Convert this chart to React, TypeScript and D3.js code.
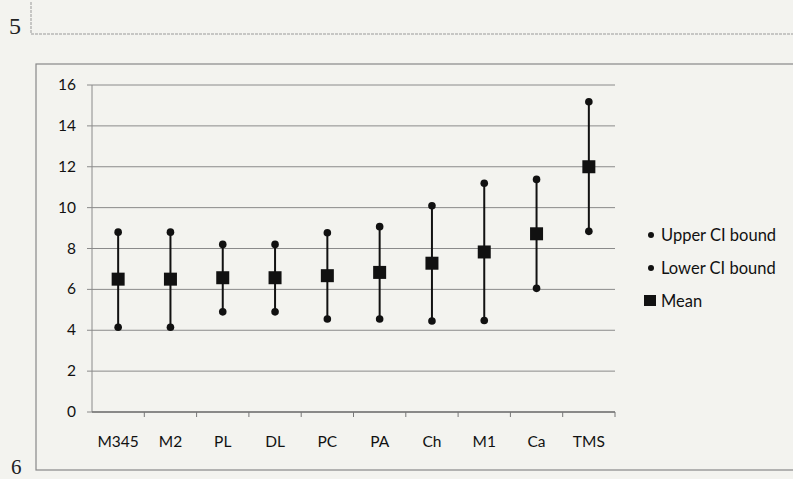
import React from 'react'
import * as d3 from 'd3'

const categories = ['M345', 'M2', 'PL', 'DL', 'PC', 'PA', 'Ch', 'M1', 'Ca', 'TMS']
const upper = [8.8, 8.8, 8.2, 8.2, 8.77, 9.07, 10.09, 11.19, 11.38, 15.18]
const lower = [4.15, 4.15, 4.9, 4.9, 4.55, 4.55, 4.45, 4.48, 6.05, 8.84]
const means = [6.5, 6.5, 6.57, 6.57, 6.67, 6.83, 7.28, 7.83, 8.72, 12.0]
const yTicks = [0, 2, 4, 6, 8, 10, 12, 14, 16]
const legendItems = ['Upper CI bound', 'Lower CI bound', 'Mean']

const W = 793
const H = 479
const font = 'Lato, Calibri, sans-serif'

export default function App () {
  const x = d3.scaleBand().domain(categories).range([92, 615])
  const y = d3.scaleLinear().domain([0, 16]).range([412, 85])
  const bw = x.bandwidth()
  const legendY = d3.scalePoint().domain(legendItems).range([235, 301])

  return (
    <svg width={W} height={H} style={{position: 'absolute', left: 0, top: 0, background: '#f3f3ef'}}>
      <rect x={0} y={0} width={W} height={H} fill='#f3f3ef' />
      {/* page furniture */}
      <text x={9} y={34} fontFamily='"Liberation Serif", serif' fontSize={24} fill='#222'>5</text>
      <path d={`M31,2 V34 H${W}`} fill='none' stroke='#999' strokeWidth={1} strokeDasharray='3,1' />
      <text x={11} y={474} fontFamily='"Liberation Serif", serif' fontSize={21} fill='#222'>6</text>
      <rect x={36} y={64} width={W} height={406} fill='none' stroke='#888' strokeWidth={1.2} />

      {/* grid */}
      {yTicks.map(t => (
        <g key={t}>
          <line x1={87} x2={615} y1={y(t)} y2={y(t)} stroke='#8a8a8a' strokeWidth={1} />
          <text x={76} y={y(t) + 5} textAnchor='end' fontFamily={font} fontSize={15.5} fill='#111'>{t}</text>
        </g>
      ))}
      <line x1={92} x2={92} y1={y(16)} y2={y(0)} stroke='#8a8a8a' strokeWidth={1} />
      <line x1={92} x2={615} y1={y(0)} y2={y(0)} stroke='#777' strokeWidth={1.5} />
      {categories.map(c => (
        <line key={'t' + c} x1={(x(c) as number) + bw} x2={(x(c) as number) + bw} y1={y(0)} y2={y(0) + 5} stroke='#777' strokeWidth={1} />
      ))}
      {categories.map(c => (
        <text key={'l' + c} x={(x(c) as number) + bw / 2} y={447} textAnchor='middle' fontFamily={font} fontSize={15.5} fill='#111'>{c}</text>
      ))}

      {/* error bars */}
      {categories.map((c, i) => {
        const cx = (x(c) as number) + bw / 2
        return (
          <g key={'e' + c}>
            <line x1={cx} x2={cx} y1={y(upper[i])} y2={y(lower[i])} stroke='#111' strokeWidth={2} />
            <circle cx={cx} cy={y(upper[i])} r={3.8} fill='#111' />
            <circle cx={cx} cy={y(lower[i])} r={3.8} fill='#111' />
            <rect x={cx - 6.5} y={y(means[i]) - 6.5} width={13} height={13} fill='#111' />
          </g>
        )
      })}

      {/* legend */}
      {legendItems.map((l, i) => {
        const ly = legendY(l) as number
        return (
          <g key={l}>
            {i < 2
              ? <circle cx={651} cy={ly} r={3} fill='#111' />
              : <rect x={644} y={ly - 6} width={12} height={11} fill='#111' />}
            <text x={661} y={ly + 6} fontFamily={font} fontSize={16.5} fill='#111'>{l}</text>
          </g>
        )
      })}
    </svg>
  )
}
